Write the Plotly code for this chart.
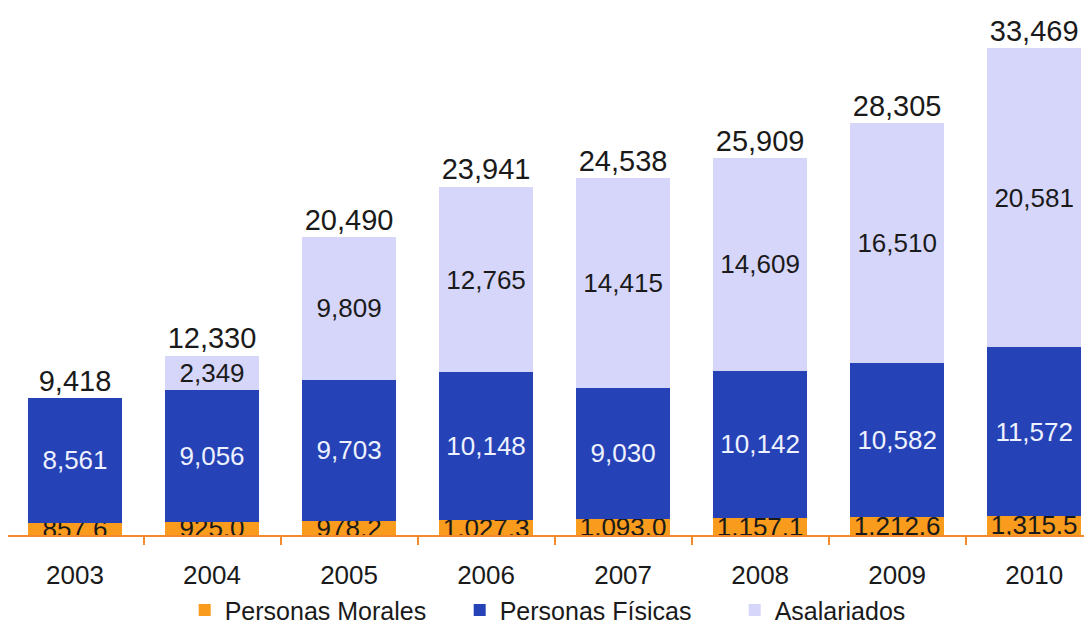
import plotly.graph_objects as go

years = ['2003', '2004', '2005', '2006', '2007', '2008', '2009', '2010']
morales = [857.6, 925.0, 978.2, 1027.3, 1093.0, 1157.1, 1212.6, 1315.5]
fisicas = [8561, 9056, 9703, 10148, 9030, 10142, 10582, 11572]
asalariados = [None, 2349, 9809, 12765, 14415, 14609, 16510, 20581]
totales = [9418, 12330, 20490, 23941, 24538, 25909, 28305, 33469]

font = 'Liberation Sans, Arial, sans-serif'

def fmt(v, dec=0):
    if v is None:
        return ''
    return f'{v:,.{dec}f}'

fig = go.Figure()
fig.add_trace(go.Bar(
    x=years, y=morales, name='Personas Morales',
    marker=dict(color='#F99B1C', line=dict(width=0)),
    text=[fmt(v, 1) for v in morales], textposition='inside',
    insidetextanchor='middle', constraintext='none',
    textfont=dict(color='#1a1a1a', size=26, family=font),
))
fig.add_trace(go.Bar(
    x=years, y=fisicas, name='Personas Físicas',
    marker=dict(color='#2543B6', line=dict(width=0)),
    text=[fmt(v) for v in fisicas], textposition='inside',
    insidetextanchor='middle', constraintext='none',
    textfont=dict(color='#EEF1FF', size=26, family=font),
))
fig.add_trace(go.Bar(
    x=years, y=asalariados, name='Asalariados',
    marker=dict(color='#D6D6FA', line=dict(width=0)),
    text=[fmt(v) for v in asalariados], textposition='inside',
    insidetextanchor='middle', constraintext='none',
    textfont=dict(color='#1a1a1a', size=26, family=font),
))
fig.add_trace(go.Scatter(
    x=years, y=totales, mode='text', showlegend=False,
    text=[fmt(v) for v in totales], textposition='top center',
    textfont=dict(color='#1a1a1a', size=29, family=font),
    hoverinfo='skip', cliponaxis=False,
))

# the page body adds an 8px margin, so the figure is sized to fit after it
fig.update_layout(
    width=1084, height=619,
    barmode='stack', bargap=0.31,
    plot_bgcolor='white', paper_bgcolor='white',
    margin=dict(l=0, r=0, t=0, b=92, autoexpand=False),
    font=dict(family=font, color='#1a1a1a'),
    legend=dict(
        orientation='h', x=0.163, xanchor='left', y=-0.143, yanchor='middle',
        font=dict(size=25, family=font), traceorder='normal',
        entrywidth=230, entrywidthmode='pixels',
    ),
    xaxis=dict(
        type='category', range=[-0.489, 7.422], automargin=False,
        showline=True, linecolor='#F58A2A', linewidth=2,
        ticks='outside', tickson='boundaries', ticklen=8, tickcolor='#F58A2A',
        tickwidth=2, ticklabelstandoff=16,
        tickfont=dict(size=26, family=font, color='#1a1a1a'),
        showgrid=False,
    ),
    yaxis=dict(visible=False, range=[0, 36220], showgrid=False),
)

fig.write_html('out.html')
